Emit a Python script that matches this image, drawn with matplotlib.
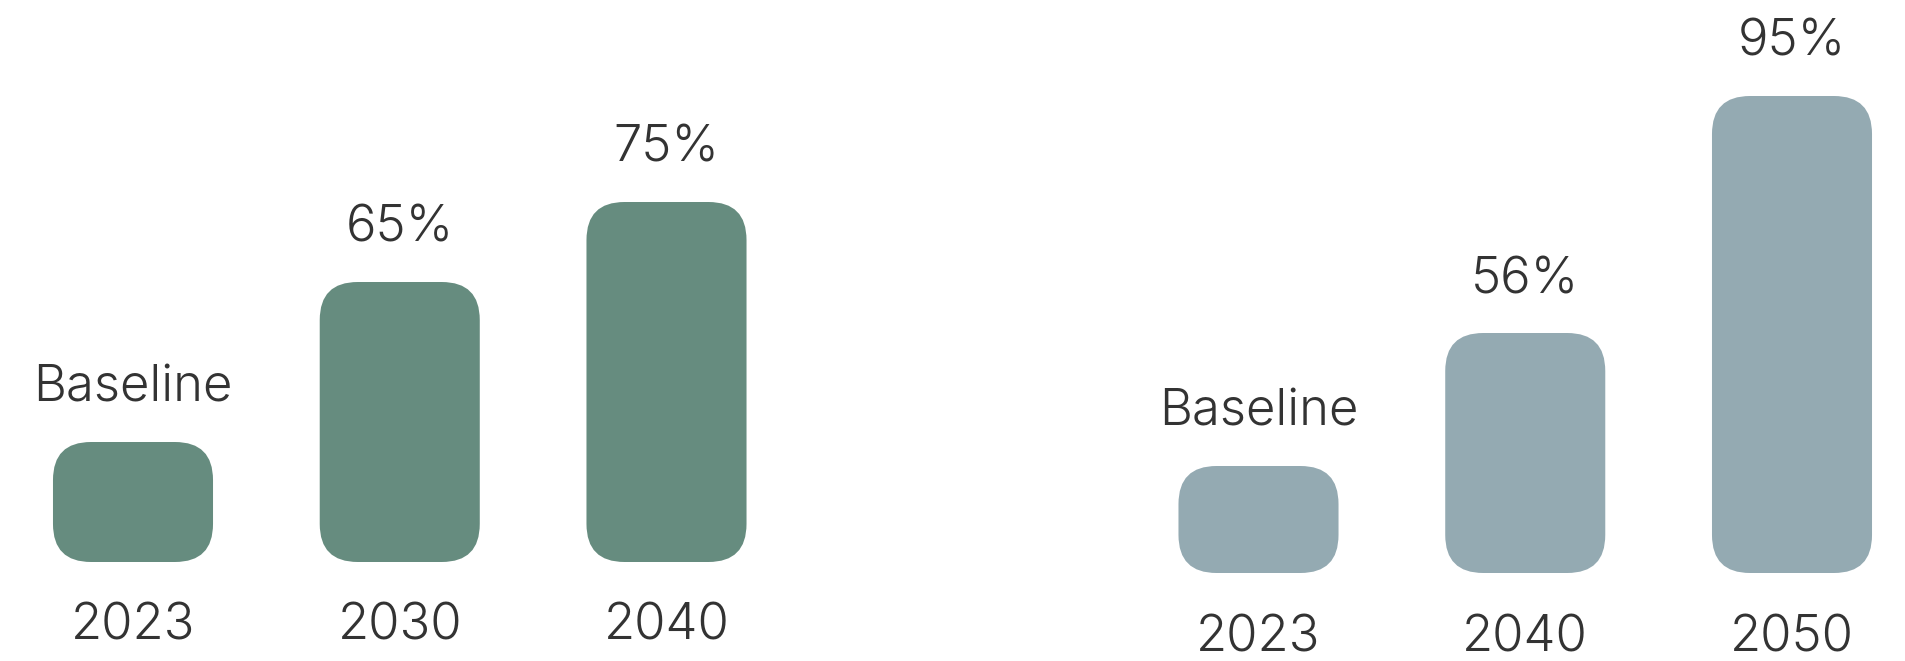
import matplotlib
matplotlib.use("Agg")
import matplotlib.pyplot as plt
from matplotlib.patches import FancyBboxPatch

# 左右两组:年份 / 柱高(按图读出的相对高度) / 顶部标注
left_years = ["2023", "2030", "2040"]
left_heights = [120, 280, 360]
left_labels = ["Baseline", "65%", "75%"]

right_years = ["2023", "2040", "2050"]
right_heights = [107, 240, 477]
right_labels = ["Baseline", "56%", "95%"]

GREEN = "#668c7f"
BLUE = "#94aab2"
TXT = "#333333"

W, H, DPI = 1906, 661, 100
STEP = 266.75      # px per category
BAR_W = 0.6        # in category units
RADIUS = 38        # px (quadratic corners look tighter than arcs, so a bit bigger)

plt.rcParams["font.family"] = ["Inter", "DejaVu Sans"]


def panel(fig, left_px, bottom_px, years, heights, labels, color):
    ax = fig.add_axes([left_px / W, bottom_px / H, 3 * STEP / W, (H - bottom_px) / H])
    ax.set_xlim(-0.5, 2.5)
    ax.set_ylim(0, H - bottom_px)
    ax.axis("off")
    r = RADIUS / STEP
    for i, (yr, h, lab) in enumerate(zip(years, heights, labels)):
        box = FancyBboxPatch((i - BAR_W / 2, 0), BAR_W, h,
                             boxstyle="round,pad=0,rounding_size=%f" % r,
                             mutation_aspect=STEP, facecolor=color, edgecolor="none")
        ax.add_patch(box)
        ax.text(i, h + 40, lab, ha="center", va="baseline", fontsize=36.5,
                fontweight=300, color=TXT, clip_on=False)
        ax.text(i, -78, yr, ha="center", va="baseline", fontsize=36.5,
                fontweight=300, color=TXT, clip_on=False)
    return ax


fig = plt.figure(figsize=(W / DPI, H / DPI), dpi=DPI)
panel(fig, 133 - STEP / 2, H - 562, left_years, left_heights, left_labels, GREEN)
panel(fig, 1258.5 - STEP / 2, H - 573, right_years, right_heights, right_labels, BLUE)
fig.savefig("out.png", dpi=DPI, facecolor="white")
